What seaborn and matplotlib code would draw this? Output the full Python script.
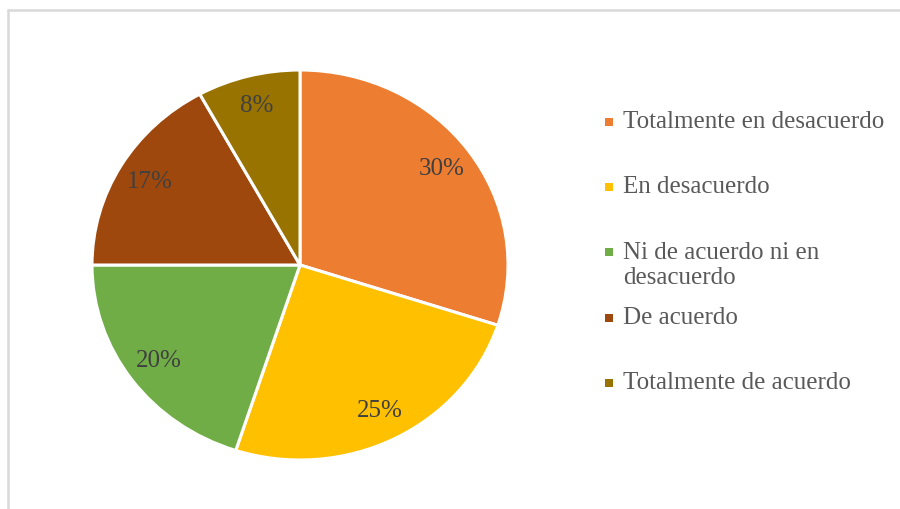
import matplotlib
matplotlib.use("Agg")
import matplotlib.pyplot as plt
import seaborn as sns
from matplotlib.lines import Line2D
from matplotlib.patches import Rectangle

sns.set_theme(style="white")
plt.rcParams['font.family'] = ['Liberation Serif', 'DejaVu Serif']

categories = ["Totalmente en desacuerdo", "En desacuerdo",
              "Ni de acuerdo ni en\ndesacuerdo", "De acuerdo",
              "Totalmente de acuerdo"]
values = [30, 25, 20, 17, 8]
colors = ["#ED7D31", "#FFC000", "#70AD47", "#9E480E", "#997300"]

W, H = 900, 509
fig = plt.figure(figsize=(W / 100, H / 100), dpi=100)
fig.patch.set_facecolor("white")

# pie axes (slightly wider than tall, like the reference)
cx, cy, rx, ry = 300, 265, 208, 195
ax = fig.add_axes([(cx - rx) / W, (H - cy - ry) / H, 2 * rx / W, 2 * ry / H])
wedges, texts, autotexts = ax.pie(
    values, colors=colors, startangle=90, counterclock=False,
    autopct=lambda p: f"{p:.0f}%", pctdistance=0.84, radius=1.0,
    wedgeprops=dict(edgecolor="white", linewidth=2.2),
    textprops=dict(fontsize=18, color="#404040"))
ax.set_aspect("auto")
ax.set_xlim(-1, 1)
ax.set_ylim(-1, 1)
ax.axis("off")

# legend entries (first-line centre y in pixels)
leg_y = [122, 187, 252, 318, 383]
for lab, col, y in zip(categories, colors, leg_y):
    if "\n" in lab:
        fig.text(623 / W, 1 - (y + 13.5) / H, lab, fontsize=18, color="#595959",
                 ha="left", va="center", linespacing=1.2)
    else:
        fig.text(623 / W, 1 - y / H, lab, fontsize=18, color="#595959",
                 ha="left", va="center")
    fig.add_artist(Rectangle((605 / W, 1 - (y + 4) / H), 8 / W, 8 / H,
                             facecolor=col, edgecolor="none",
                             transform=fig.transFigure))

# chart border (left and top visible)
fig.add_artist(Line2D([8 / W, 8 / W], [0, 1 - 10 / H], color="#D9D9D9",
                      linewidth=1.8, transform=fig.transFigure))
fig.add_artist(Line2D([8 / W, 1], [1 - 10 / H, 1 - 10 / H], color="#D9D9D9",
                      linewidth=1.8, transform=fig.transFigure))

fig.savefig("out.png", dpi=100, facecolor="white")
